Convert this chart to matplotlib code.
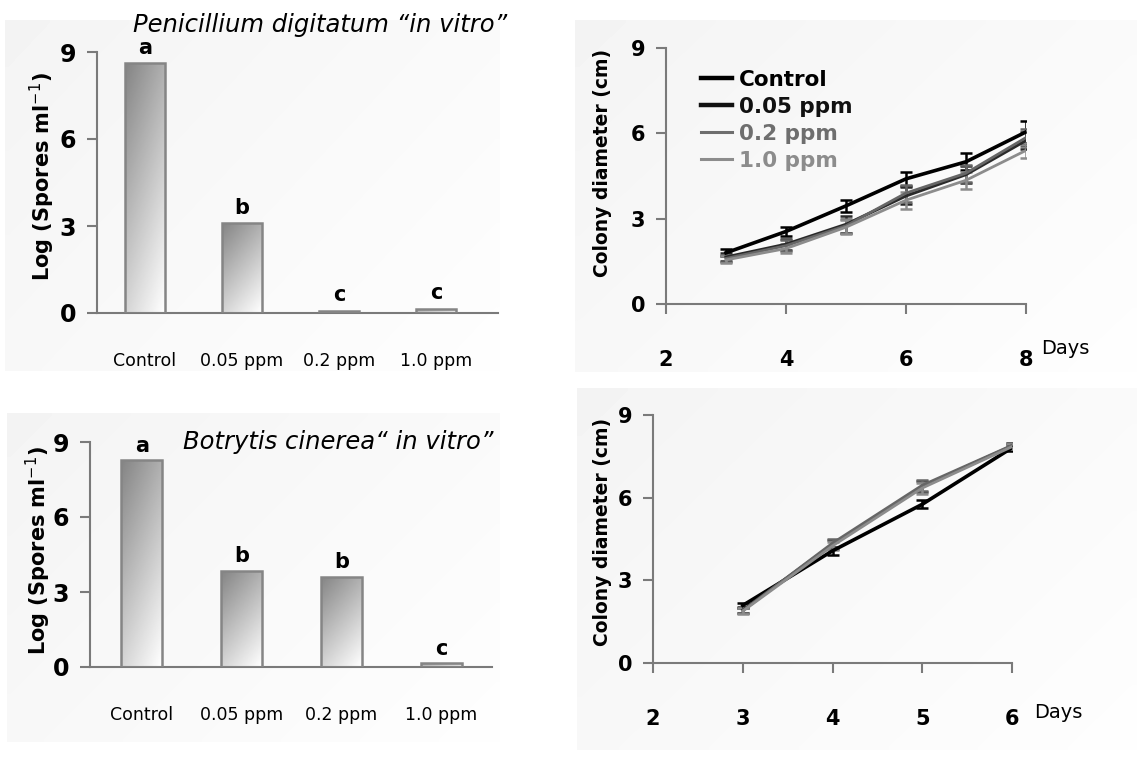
import numpy as np
import matplotlib
matplotlib.use("Agg")
import matplotlib.pyplot as plt
from matplotlib.lines import Line2D

# ---------------- data ----------------
categories = ["Control", "0.05 ppm", "0.2 ppm", "1.0 ppm"]
penicillium_spores = [8.62, 3.1, 0.08, 0.15]
penicillium_letters = ["a", "b", "c", "c"]
botrytis_spores = [8.27, 3.84, 3.62, 0.15]
botrytis_letters = ["a", "b", "b", "c"]

series_names = ["Control", "0.05 ppm", "0.2 ppm", "1.0 ppm"]

pen_days = [3, 4, 5, 6, 7, 8]
pen_control = [1.8, 2.55, 3.45, 4.4, 5.0, 6.05]
pen_005 = [1.65, 2.1, 2.8, 3.8, 4.55, 5.75]
pen_02 = [1.6, 2.05, 2.75, 3.9, 4.6, 5.85]
pen_10 = [1.55, 1.95, 2.7, 3.65, 4.35, 5.4]
pen_control_err = [0.12, 0.15, 0.2, 0.25, 0.3, 0.4]
pen_005_err = [0.15, 0.2, 0.3, 0.3, 0.3, 0.3]
pen_02_err = [0.12, 0.2, 0.25, 0.3, 0.3, 0.3]
pen_10_err = [0.12, 0.15, 0.25, 0.3, 0.3, 0.25]

bot_days = [3, 4, 5, 6]
bot_control = [2.09, 4.07, 5.76, 7.81]
bot_005 = [1.92, 4.3, 6.4, 7.88]
bot_02 = [1.9, 4.35, 6.45, 7.9]
bot_10 = [1.88, 4.25, 6.35, 7.85]
bot_control_err = [0.1, 0.15, 0.15, 0.1]
bot_005_err = [0.1, 0.15, 0.2, 0.1]
bot_02_err = [0.1, 0.15, 0.2, 0.1]
bot_10_err = [0.1, 0.15, 0.2, 0.1]

line_colors = ["#000000", "#2a2a2a", "#666666", "#8c8c8c"]
line_widths = [2.6, 2.2, 2.0, 2.0]

W, H = 1137, 758
fig = plt.figure(figsize=(W / 100, H / 100), dpi=100)
plt.rcParams['font.family'] = ['DejaVu Sans']

def fx(px):
    return px / W

def fy(py):
    return 1 - py / H

# ---------- faint gradient panel backgrounds ----------
bg = fig.add_axes([0, 0, 1, 1], zorder=-10)
bg.set_xlim(0, W)
bg.set_ylim(H, 0)
bg.axis("off")
gx, gy = np.meshgrid(np.linspace(0, 1, 64), np.linspace(0, 1, 64))
grad = 0.955 + 0.04 * (0.6 * gx + 0.4 * gy)
for (x0, x1, y0, y1) in [(5, 500, 20, 371), (575, 1137, 20, 372),
                         (7, 500, 413, 742), (577, 1137, 388, 750)]:
    bg.imshow(grad, cmap="gray", vmin=0, vmax=1, extent=(x0, x1, y1, y0),
              aspect="auto", interpolation="bilinear")

axis_col = "#7a7a7a"

def style_axes(ax):
    for s in ["top", "right"]:
        ax.spines[s].set_visible(False)
    for s in ["left", "bottom"]:
        ax.spines[s].set_color(axis_col)
        ax.spines[s].set_linewidth(1.5)
    ax.set_facecolor("none")
    ax.tick_params(axis="both", colors=axis_col, width=1.5, length=7,
                   labelcolor="black")

def bar_panel(rect, values, letters, xlim, letter_off):
    ax = fig.add_axes(rect)
    style_axes(ax)
    x = np.arange(len(categories))
    bars = ax.bar(x, values, width=0.41, color="none", edgecolor="#858585",
                  linewidth=1.8, zorder=3)
    gxx, gyy = np.meshgrid(np.linspace(0, 1, 50), np.linspace(0, 1, 50))
    g = 0.52 + 0.48 * (0.35 * gxx + 0.65 * gyy)
    for b in bars:
        x0 = b.get_x(); w = b.get_width(); h = b.get_height()
        im = ax.imshow(g, cmap="gray", vmin=0, vmax=1,
                       extent=(x0, x0 + w, 0, h), aspect="auto",
                       origin="upper", interpolation="bilinear", zorder=2)
        im.set_clip_path(b)
    for xi, v, lt in zip(x, values, letters):
        ax.annotate(lt, (xi, v), xytext=(0, letter_off), textcoords="offset points",
                    ha="center", va="center", fontsize=15, fontweight="bold")
    ax.set_xlim(*xlim)
    ax.set_ylim(0, 9)
    ax.set_yticks([0, 3, 6, 9])
    ax.set_xticks(x)
    ax.set_xticklabels(categories, fontsize=12.5)
    ax.tick_params(axis="x", length=0, pad=28)
    ax.tick_params(axis="y", labelsize=17, pad=8)
    for t in ax.get_yticklabels():
        t.set_fontweight("bold")
    return ax

# top-left
axTL = bar_panel([fx(97), fy(313), fx(498) - fx(97), fy(52) - fy(313)],
                 penicillium_spores, penicillium_letters, (-0.495, 3.64), 11)
# bottom-left
axBL = bar_panel([fx(90), fy(667), fx(492) - fx(90), fy(442) - fy(667)],
                 botrytis_spores, botrytis_letters, (-0.52, 3.51), 10.5)

fig.text(fx(320), fy(25), "Penicillium digitatum \u201cin vitro\u201d", ha="center",
         va="center", fontsize=17.5, style="italic")
fig.text(fx(338), fy(442), "Botrytis cinerea\u201c in vitro\u201d", ha="center",
         va="center", fontsize=17.5, style="italic")

ylab = "Log (Spores ml$^{-1}$)"
fig.text(fx(42), fy(177), ylab, rotation=90, ha="center", va="center",
         fontsize=15, fontweight="bold")
fig.text(fx(38), fy(551), ylab, rotation=90, ha="center", va="center",
         fontsize=15, fontweight="bold")

def line_panel(rect, days, ys, errs, xlim, xticks):
    ax = fig.add_axes(rect)
    style_axes(ax)
    for name, y, e, c, lw in zip(series_names, ys, errs, line_colors, line_widths):
        ax.errorbar(days, y, yerr=e, color=c, lw=lw, capsize=4,
                    elinewidth=1.8, capthick=1.8, label=name)
    ax.set_xlim(*xlim)
    ax.set_ylim(0, 9)
    ax.set_yticks([0, 3, 6, 9])
    ax.set_xticks(xticks)
    ax.tick_params(axis="x", labelsize=15, pad=26)
    ax.tick_params(axis="y", labelsize=15, pad=8)
    for t in ax.get_xticklabels() + ax.get_yticklabels():
        t.set_fontweight("bold")
    return ax

axTR = line_panel([fx(666), fy(304), fx(1026) - fx(666), fy(48) - fy(304)],
                  pen_days, [pen_control, pen_005, pen_02, pen_10],
                  [pen_control_err, pen_005_err, pen_02_err, pen_10_err],
                  (2, 8), [2, 4, 6, 8])
axBR = line_panel([fx(653), fy(663), fx(1012) - fx(653), fy(415) - fy(663)],
                  bot_days, [bot_control, bot_005, bot_02, bot_10],
                  [bot_control_err, bot_005_err, bot_02_err, bot_10_err],
                  (2, 6), [2, 3, 4, 5, 6])

leg_cols = ["#000000", "#111111", "#6e6e6e", "#8c8c8c"]
leg_handles = [Line2D([], [], color=c, lw=l) for c, l in
               zip(leg_cols, [3.2, 3.2, 2.2, 2.2])]
leg = axTR.legend(leg_handles, series_names, loc="upper left",
                  bbox_to_anchor=(fx(701), fy(70)), bbox_transform=fig.transFigure,
                  frameon=False, fontsize=15.5, handlelength=1.45, handletextpad=0.3,
                  labelspacing=0.32, borderpad=0, borderaxespad=0)
for t, c in zip(leg.get_texts(), leg_cols):
    t.set_color(c)
    t.set_fontweight("bold")

fig.text(fx(1065), fy(348), "Days", ha="center", va="center", fontsize=14)
fig.text(fx(1058), fy(712), "Days", ha="center", va="center", fontsize=14)

ylab2 = "Colony diameter (cm)"
fig.text(fx(603), fy(163), ylab2, rotation=90, ha="center", va="center",
         fontsize=13.5, fontweight="bold")
fig.text(fx(603), fy(532), ylab2, rotation=90, ha="center", va="center",
         fontsize=13.5, fontweight="bold")

fig.savefig("out.png", dpi=100, facecolor="white")
